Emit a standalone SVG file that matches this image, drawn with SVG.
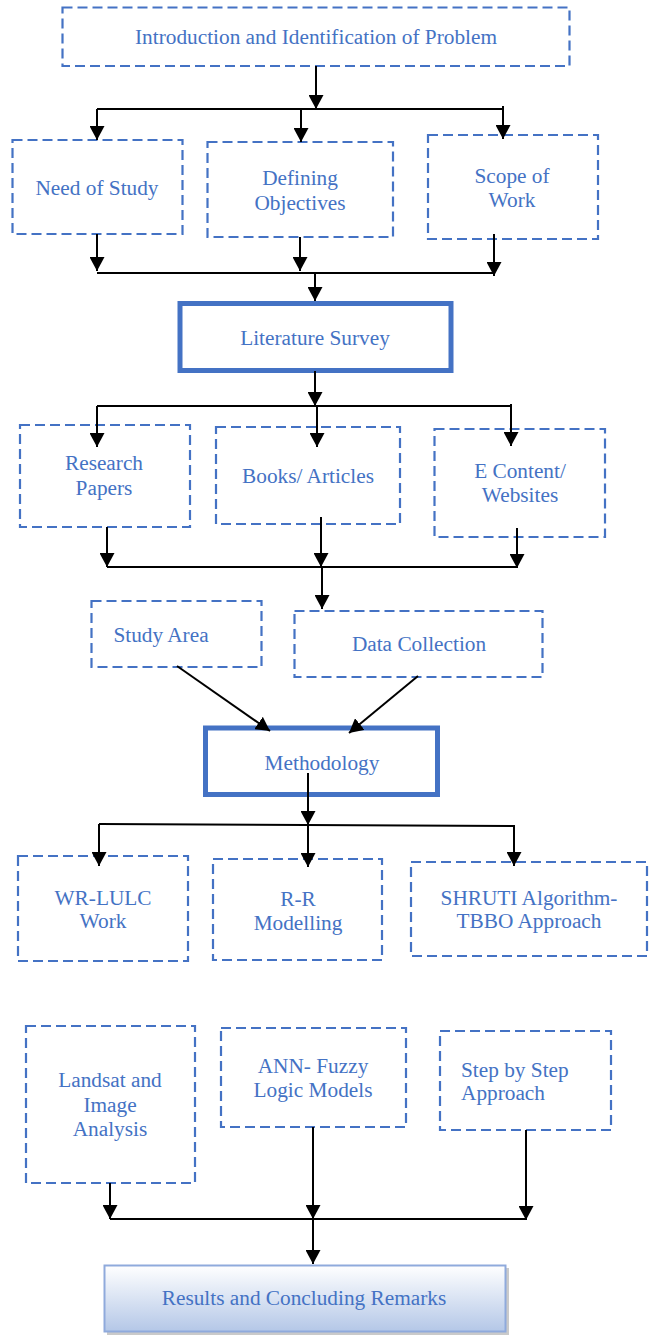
<svg xmlns="http://www.w3.org/2000/svg" width="652" height="1335" viewBox="0 0 652 1335">
<style>
.d{fill:#fff;stroke:#4472C4;stroke-width:2.2;stroke-dasharray:10,5}
.b{fill:#fff;stroke:#4472C4;stroke-width:5}
.t{font-family:"Liberation Serif","Times New Roman",serif;font-size:21.3px;fill:#4472C4;text-anchor:middle}
.c line{stroke:#000;stroke-width:2}
.a{marker-end:url(#ah)}
</style>
<defs>
<marker id="ah" markerUnits="userSpaceOnUse" markerWidth="14" markerHeight="15" refX="14" refY="7.5" orient="auto" viewBox="0 0 14 15">
<path d="M0,0 L14,7.5 L0,15 z" fill="#000"/>
</marker>
<linearGradient id="g" x1="0" y1="0" x2="0" y2="1">
<stop offset="0" stop-color="#ffffff"/>
<stop offset="1" stop-color="#b4c7e7"/>
</linearGradient>
</defs>
<g id="n1"><rect class="d" x="62.5" y="7.5" width="507" height="58.5"/><text class="t" x="316" y="44">Introduction and Identification of Problem</text></g>
<g id="n2"><rect class="d" x="12.5" y="140" width="170" height="94"/><text class="t" x="97" y="195">Need of Study</text></g>
<g id="n3"><rect class="d" x="207.5" y="142" width="185.5" height="95"/><text class="t" x="300" y="185">Defining</text><text class="t" x="300" y="210">Objectives</text></g>
<g id="n4"><rect class="d" x="428" y="135" width="170" height="104"/><text class="t" x="512" y="183">Scope of</text><text class="t" x="512" y="207">Work</text></g>
<g id="n5"><rect class="b" x="180" y="303.5" width="271" height="67"/><text class="t" x="315" y="345">Literature Survey</text></g>
<g id="n6"><rect class="d" x="20" y="425" width="170" height="102"/><text class="t" x="104" y="470">Research</text><text class="t" x="104" y="495">Papers</text></g>
<g id="n7"><rect class="d" x="216" y="427" width="184" height="97"/><text class="t" x="308" y="483">Books/ Articles</text></g>
<g id="n8"><rect class="d" x="434.5" y="429" width="170.5" height="108"/><text class="t" x="520" y="478">E Content/</text><text class="t" x="520" y="502">Websites</text></g>
<g id="n9"><rect class="d" x="91.5" y="601" width="170" height="66"/><text class="t" x="161" y="642">Study Area</text></g>
<g id="n10"><rect class="d" x="294.5" y="611" width="248" height="66"/><text class="t" x="419" y="651">Data Collection</text></g>
<g id="n11"><rect class="b" x="205.5" y="728" width="232" height="66.5"/><text class="t" x="322" y="770">Methodology</text></g>
<g id="n12"><rect class="d" x="18" y="856" width="170" height="105"/><text class="t" x="103" y="905">WR-LULC</text><text class="t" x="103" y="928">Work</text></g>
<g id="n13"><rect class="d" x="213" y="859" width="169" height="101"/><text class="t" x="298" y="906">R-R</text><text class="t" x="298" y="930">Modelling</text></g>
<g id="n14"><rect class="d" x="411" y="862" width="236" height="94"/><text class="t" x="529" y="905">SHRUTI Algorithm-</text><text class="t" x="529" y="928">TBBO Approach</text></g>
<g id="n15"><rect class="d" x="26" y="1026" width="169" height="157"/><text class="t" x="110" y="1087">Landsat and</text><text class="t" x="110" y="1112">Image</text><text class="t" x="110" y="1136">Analysis</text></g>
<g id="n16"><rect class="d" x="221" y="1028" width="185" height="99"/><text class="t" x="313" y="1073">ANN- Fuzzy</text><text class="t" x="313" y="1097">Logic Models</text></g>
<g id="n17"><rect class="d" x="440" y="1031" width="171" height="99"/><text class="t" x="461" y="1077" style="text-anchor:start">Step by Step</text><text class="t" x="461" y="1100" style="text-anchor:start">Approach</text></g>
<g id="n18"><rect x="107" y="1268" width="402" height="67" fill="#a6a6a6" opacity="0.6"/><rect x="104.5" y="1265.5" width="401" height="66" fill="url(#g)" stroke="#8faadc" stroke-width="2"/><text class="t" x="304" y="1305">Results and Concluding Remarks</text></g>
<g id="connectors" class="c">
<line class="a" x1="316" y1="66" x2="316" y2="109"/>
<line x1="97" y1="109" x2="504" y2="109"/>
<line class="a" x1="97" y1="109" x2="97" y2="140"/>
<line class="a" x1="301" y1="110" x2="301" y2="142"/>
<line class="a" x1="503" y1="106" x2="503" y2="139"/>
<line class="a" x1="97" y1="234" x2="97" y2="271"/>
<line class="a" x1="300" y1="237" x2="300" y2="271"/>
<line class="a" x1="494" y1="234" x2="494" y2="276"/>
<line x1="97" y1="273" x2="494" y2="273"/>
<line class="a" x1="315" y1="273" x2="315" y2="301"/>
<line class="a" x1="315" y1="371" x2="315" y2="406"/>
<line x1="97" y1="406" x2="511" y2="406"/>
<line class="a" x1="97" y1="406" x2="97" y2="447"/>
<line class="a" x1="317" y1="406" x2="317" y2="447"/>
<line class="a" x1="511" y1="404" x2="511" y2="446"/>
<line class="a" x1="107" y1="527" x2="107" y2="567"/>
<line class="a" x1="321" y1="517" x2="321" y2="567"/>
<line class="a" x1="517" y1="528" x2="517" y2="568"/>
<line x1="107" y1="567" x2="517" y2="567"/>
<line class="a" x1="322" y1="567" x2="322" y2="609"/>
<line class="a" x1="177" y1="666" x2="270" y2="731"/>
<line class="a" x1="418" y1="676" x2="349" y2="733"/>
<line class="a" x1="308" y1="773" x2="308" y2="825"/>
<line x1="99" y1="824" x2="514" y2="826"/>
<line class="a" x1="99" y1="824" x2="99" y2="866"/>
<line class="a" x1="308" y1="825" x2="308" y2="867"/>
<line class="a" x1="514" y1="825" x2="514" y2="866"/>
<line class="a" x1="110" y1="1183" x2="110" y2="1219"/>
<line class="a" x1="313" y1="1127" x2="313" y2="1219"/>
<line class="a" x1="526" y1="1130" x2="526" y2="1220"/>
<line x1="110" y1="1219" x2="526" y2="1219"/>
<line class="a" x1="313" y1="1219" x2="313" y2="1264"/>
</g>
</svg>
